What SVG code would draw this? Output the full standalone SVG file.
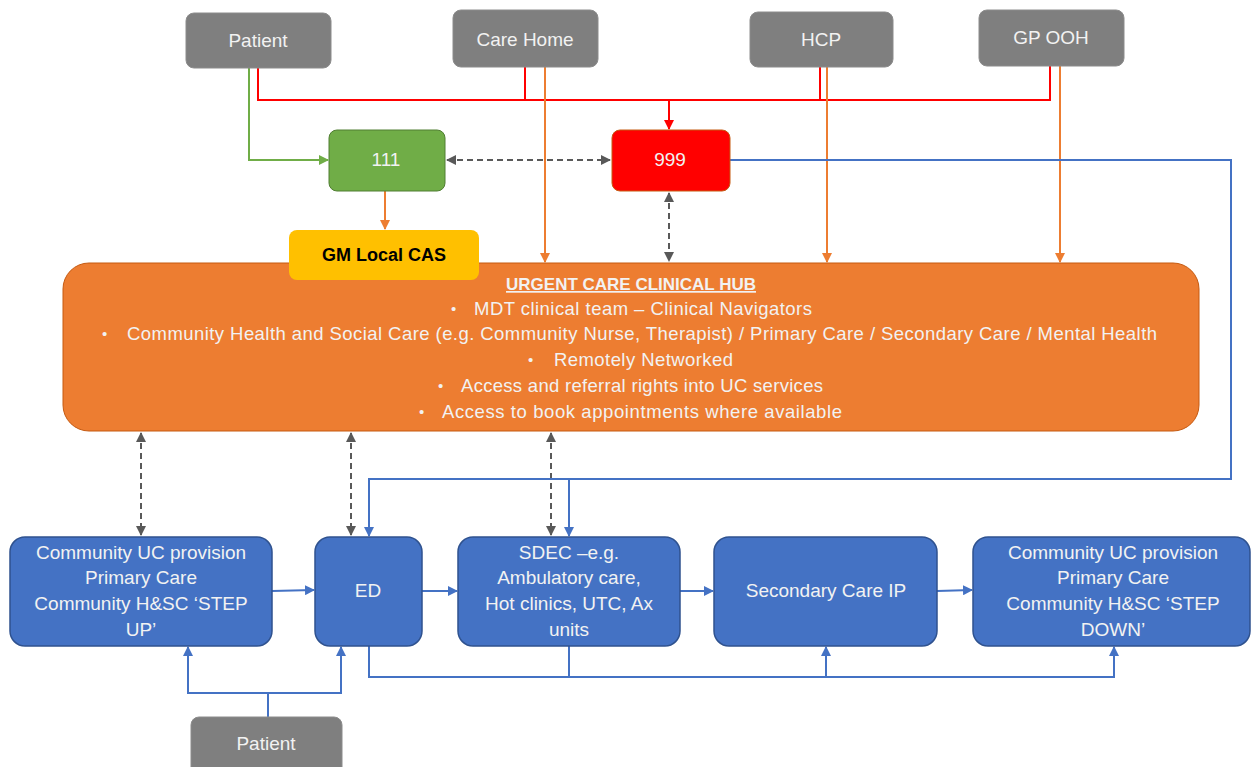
<svg xmlns="http://www.w3.org/2000/svg" width="1253" height="767" viewBox="0 0 1253 767">
<defs>
<style>
text{font-family:"Liberation Sans",Arial,sans-serif;font-size:19px;fill:#F2F2F2;text-anchor:middle}
.gray{fill:#7F7F7F;stroke:#8C8C8C;stroke-width:1}
.blue{fill:#4472C4;stroke:#2F528F;stroke-width:1.5}
.ln{fill:none;stroke-width:2}
.red{stroke:#FF0000}
.grn{stroke:#70AD47}
.org{stroke:#ED7D31}
.bl{stroke:#4472C4}
.dsh{stroke:#595959;stroke-dasharray:6 4}
.hub{text-anchor:start;font-size:18.5px}
.bul{text-anchor:start;font-size:15px}
.title{font-weight:bold;font-size:17px;text-decoration:underline}
.cas{font-weight:bold;font-size:18px;fill:#000000}
</style>
<marker id="aR" viewBox="0 0 10 10" refX="9" refY="5" markerWidth="5" markerHeight="5" orient="auto-start-reverse"><path d="M0,0L10,5L0,10z" fill="#FF0000"/></marker>
<marker id="aG" viewBox="0 0 10 10" refX="9" refY="5" markerWidth="5" markerHeight="5" orient="auto-start-reverse"><path d="M0,0L10,5L0,10z" fill="#70AD47"/></marker>
<marker id="aO" viewBox="0 0 10 10" refX="9" refY="5" markerWidth="5" markerHeight="5" orient="auto-start-reverse"><path d="M0,0L10,5L0,10z" fill="#ED7D31"/></marker>
<marker id="aB" viewBox="0 0 10 10" refX="9" refY="5" markerWidth="5" markerHeight="5" orient="auto-start-reverse"><path d="M0,0L10,5L0,10z" fill="#4472C4"/></marker>
<marker id="aK" viewBox="0 0 10 10" refX="9" refY="5" markerWidth="5" markerHeight="5" orient="auto-start-reverse"><path d="M0,0L10,5L0,10z" fill="#595959"/></marker>
</defs>
<rect width="1253" height="767" fill="#FFFFFF"/>

<g id="connectors">
<polyline class="ln red" points="258,68 258,100 1050,100 1050,66"/>
<line class="ln red" x1="525" y1="67" x2="525" y2="100"/>
<line class="ln red" x1="820" y1="67" x2="820" y2="100"/>
<line class="ln red" x1="669" y1="100" x2="669" y2="129" marker-end="url(#aR)"/>
<polyline class="ln grn" points="249,68 249,160 328,160" marker-end="url(#aG)"/>
<line class="ln org" x1="385" y1="191" x2="385" y2="229" marker-end="url(#aO)"/>
<line class="ln org" x1="545" y1="67" x2="545" y2="262" marker-end="url(#aO)"/>
<line class="ln org" x1="827" y1="67" x2="827" y2="262" marker-end="url(#aO)"/>
<line class="ln org" x1="1060" y1="66" x2="1060" y2="262" marker-end="url(#aO)"/>
<line class="ln dsh" x1="447" y1="160" x2="610" y2="160" marker-start="url(#aK)" marker-end="url(#aK)"/>
<line class="ln dsh" x1="669" y1="193" x2="669" y2="261" marker-start="url(#aK)" marker-end="url(#aK)"/>
<line class="ln dsh" x1="141" y1="433" x2="141" y2="535" marker-start="url(#aK)" marker-end="url(#aK)"/>
<line class="ln dsh" x1="351" y1="433" x2="351" y2="535" marker-start="url(#aK)" marker-end="url(#aK)"/>
<line class="ln dsh" x1="551" y1="433" x2="551" y2="535" marker-start="url(#aK)" marker-end="url(#aK)"/>
<polyline class="ln bl" points="730,160 1231,160 1231,479 369,479 369,536" marker-end="url(#aB)"/>
<line class="ln bl" x1="569" y1="479" x2="569" y2="536" marker-end="url(#aB)"/>
<line class="ln bl" x1="272" y1="591" x2="314" y2="590" marker-end="url(#aB)"/>
<line class="ln bl" x1="422" y1="591" x2="457" y2="591" marker-end="url(#aB)"/>
<line class="ln bl" x1="680" y1="591" x2="713" y2="591" marker-end="url(#aB)"/>
<line class="ln bl" x1="937" y1="591" x2="972" y2="590" marker-end="url(#aB)"/>
<polyline class="ln bl" points="369,646 369,677 1114,677 1114,647" marker-end="url(#aB)"/>
<line class="ln bl" x1="569" y1="646" x2="569" y2="677"/>
<line class="ln bl" x1="826" y1="677" x2="826" y2="647" marker-end="url(#aB)"/>
<line class="ln bl" x1="268" y1="717" x2="268" y2="693"/>
<polyline class="ln bl" points="188,647 188,693 341,693 341,647" marker-start="url(#aB)" marker-end="url(#aB)"/>
</g>

<g id="patient-top"><rect class="gray" x="186" y="13" width="145" height="55" rx="8"/><text x="258" y="47">Patient</text></g>
<g id="care-home"><rect class="gray" x="453" y="10" width="145" height="57" rx="8"/><text x="525" y="46">Care Home</text></g>
<g id="hcp"><rect class="gray" x="750" y="12" width="143" height="55" rx="8"/><text x="821" y="46">HCP</text></g>
<g id="gp-ooh"><rect class="gray" x="979" y="10" width="145" height="56" rx="8"/><text x="1051" y="44">GP OOH</text></g>

<g id="n111"><rect x="329" y="130" width="116" height="61" rx="8" fill="#70AD47" stroke="#507E32" stroke-width="1"/><text x="386" y="166">111</text></g>
<g id="n999"><rect x="612" y="130" width="118" height="61" rx="8" fill="#FF0000" stroke="#C55A11" stroke-width="1"/><text x="670" y="166">999</text></g>

<g id="hub">
<rect x="63" y="263" width="1136" height="168" rx="26" fill="#ED7D31" stroke="#C55A11" stroke-width="1"/>
<text class="title" x="631" y="290">URGENT CARE CLINICAL HUB</text>
<text class="bul" x="451" y="314">•</text><text class="hub" x="474" y="315" textLength="338">MDT clinical team – Clinical Navigators</text>
<text class="bul" x="102" y="339">•</text><text class="hub" x="127" y="340" textLength="1030">Community  Health and Social Care (e.g. Community  Nurse, Therapist) / Primary  Care / Secondary Care / Mental Health</text>
<text class="bul" x="528" y="365">•</text><text class="hub" x="554" y="366" textLength="179">Remotely Networked</text>
<text class="bul" x="438" y="391">•</text><text class="hub" x="461" y="392" textLength="362">Access and referral rights into UC services</text>
<text class="bul" x="419" y="417">•</text><text class="hub" x="442" y="418" textLength="400">Access to book appointments where available</text>
</g>

<g id="gm-local-cas"><rect x="289" y="230" width="190" height="50" rx="8" fill="#FFC000"/><text class="cas" x="384" y="261">GM Local CAS</text></g>

<g id="community-step-up"><rect class="blue" x="10" y="537" width="262" height="109" rx="15"/>
<text x="141" y="559">Community  UC provision</text><text x="141" y="584">Primary Care</text><text x="141" y="610">Community  H&amp;SC ‘STEP</text><text x="141" y="636">UP’</text></g>
<g id="ed"><rect class="blue" x="315" y="537" width="107" height="109" rx="15"/><text x="368" y="597">ED</text></g>
<g id="sdec"><rect class="blue" x="458" y="537" width="222" height="109" rx="15"/>
<text x="569" y="559">SDEC –e.g.</text><text x="569" y="584">Ambulatory care,</text><text x="569" y="610">Hot clinics, UTC, Ax</text><text x="569" y="636">units</text></g>
<g id="secondary-care-ip"><rect class="blue" x="714" y="537" width="223" height="109" rx="15"/><text x="826" y="597">Secondary Care IP</text></g>
<g id="community-step-down"><rect class="blue" x="973" y="537" width="277" height="109" rx="15"/>
<text x="1113" y="559">Community  UC provision</text><text x="1113" y="584">Primary Care</text><text x="1113" y="610">Community  H&amp;SC ‘STEP</text><text x="1113" y="636">DOWN’</text></g>

<g id="patient-bottom"><rect class="gray" x="191" y="717" width="151" height="60" rx="8"/><text x="266" y="750">Patient</text></g>
</svg>
